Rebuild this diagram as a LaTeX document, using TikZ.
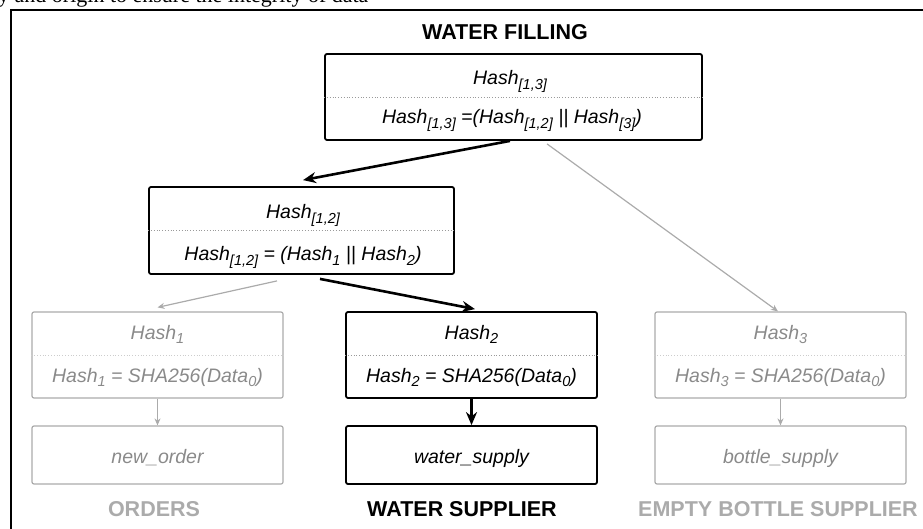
\documentclass[tikz,border=0pt]{standalone}
\usepackage{fontspec}
\setmainfont{Liberation Sans}
\newfontfamily\captionserif{Liberation Serif}
\usetikzlibrary{arrows.meta}
\definecolor{lightgr}{HTML}{ABABAB}
\definecolor{midgr}{HTML}{8A8A8A}
\definecolor{doton}{HTML}{9A9A9A}
\definecolor{dotoff}{HTML}{CDCDCD}
\newcommand\subs[1]{\raisebox{-0.4ex}{\fontsize{14.5}{16}\selectfont #1}}

\begin{document}
\begin{tikzpicture}[x=1pt,y=-1pt,
    boxon/.style={draw=black, line width=1.8pt, rounded corners=2pt},
    boxoff/.style={draw=lightgr, line width=1.2pt, rounded corners=2pt},
    txton/.style={anchor=base, inner sep=0pt, font=\fontsize{19.5}{22}\selectfont\itshape},
    txtoff/.style={txton, text=midgr},
    headon/.style={anchor=base, inner sep=0pt, font=\fontsize{21.5}{24}\selectfont\bfseries},
    headoff/.style={headon, text=lightgr},
    spliton/.style={dotted, draw=doton, line width=.8pt},
    splitoff/.style={dotted, draw=dotoff, line width=.8pt},
    linkon/.style={-{Stealth[length=13pt,width=11pt]}, line width=2.6pt},
    linkoff/.style={-{Stealth[length=7pt,width=6pt]}, draw=lightgr, line width=1.2pt},
]
    \useasboundingbox (0,0) rectangle (923,529);
    % page text and frame
    \node[anchor=base west, inner sep=0pt, font=\captionserif\fontsize{22}{24}\selectfont] (cap) at (-2,2.5) {y and origin to ensure the integrity of data};
    \draw[line width=2.2pt] (11,545) -- (11,10) -- (940,10);

    % root
    \node[headon] (fill) at (505,40) {WATER FILLING};
    \node[boxon, minimum width=377pt, minimum height=86pt] (h13) at (513.5,97) {};
    \draw[spliton] (h13.west) -- (h13.east);
    \node[txton] (h13t) at (510,85) {Hash\subs{[1,3]}};
    \node[txton] (h13f) at (512,124) {Hash\subs{[1,3]} =(Hash\subs{[1,2]} || Hash\subs{[3]})};

    % middle
    \node[boxon, minimum width=305pt, minimum height=87pt] (h12) at (301.5,230.5) {};
    \draw[spliton] (h12.west) -- (h12.east);
    \node[txton] (h12t) at (303,219) {Hash\subs{[1,2]}};
    \node[txton] (h12f) at (303,261) {Hash\subs{[1,2]} = (Hash\subs{1} || Hash\subs{2})};

    % leaves
    \foreach \n/\x/\st/\dat/\lab/\lx in {1/157.5/off/new\_order/ORDERS/154,
                                         2/471.5/on/water\_supply/WATER SUPPLIER/462,
                                         3/780.5/off/bottle\_supply/EMPTY BOTTLE SUPPLIER/778}{
        \node[box\st, minimum width=251pt, minimum height=86pt] (h\n) at (\x,355) {};
        \draw[split\st] (h\n.west) -- (h\n.east);
        \node[txt\st] (h\n t) at (\x,339) {Hash\subs{\n}};
        \node[txt\st] (h\n f) at (\x,382) {Hash\subs{\n} = SHA256(Data\subs{0})};
        \node[box\st, minimum width=251pt, minimum height=58pt] (d\n) at (\x,455) {};
        \node[txt\st] (d\n t) at (\x,463) {\dat};
        \node[head\st] (l\n) at (\lx,516) {\lab};
        \draw[link\st] (h\n.south) -- (d\n.north);
    }

    % links
    \draw[linkon] ([xshift=-3.5pt]h13.south) -- ([xshift=1.5pt,yshift=6pt]h12.north);
    \draw[linkoff] ([xshift=33.5pt,yshift=-3pt]h13.south) -- ([xshift=-2.5pt]h3.north);
    \draw[linkoff] ([xshift=-24.5pt,yshift=-6pt]h12.south) -- ([yshift=4pt]h1.north);
    \draw[linkon] ([xshift=18.5pt,yshift=-4pt]h12.south) -- ([xshift=3.5pt,yshift=2pt]h2.north);
\end{tikzpicture}
\end{document}
